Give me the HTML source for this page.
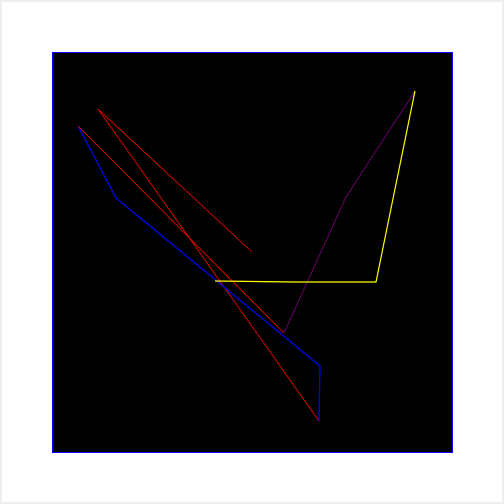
<!DOCTYPE html>
<html><head><meta charset="utf-8"><style>
html,body{margin:0;padding:0;background:#fff}
#frame{position:relative;width:500px;height:500px;border:2px solid #eee;background:#fff}
svg{position:absolute;left:0;top:0}
</style></head><body>
<div id="frame">
<svg id="chart" width="500" height="500">
<rect x="50.5" y="50.5" width="400" height="400" fill="#000" stroke="#00f" stroke-width="1"></rect>
<g id="marks"></g>
</svg>
</div>
<script>
// path segments, values in plot units (0-400, origin top-left of plot)
const segColors = ["red","blue","red","purple","yellow"];
const segX = [[200,46,267],[267,268,64,26],[26,232],[232,294,363],[363,324,243,163]];
const segY = [[200,57,369],[369,314,146,74],[74,281],[281,145,39],[39,230,230,229]];
const x0 = 50, y0 = 50;
function xs(v){return x0 + v;}
function ys(v){return y0 + v;}
const g = document.getElementById('marks');
segColors.forEach((c,i)=>{
  const pl = document.createElementNS('http://www.w3.org/2000/svg','polyline');
  pl.setAttribute('points', segX[i].map((v,j)=>xs(v)+','+ys(segY[i][j])).join(' '));
  pl.setAttribute('fill','none');
  pl.setAttribute('stroke',c);
  pl.setAttribute('stroke-width', c==='blue'||c==='yellow' ? 1.2 : 0.8);
  
  
  g.appendChild(pl);
});
</script>
</body></html>
